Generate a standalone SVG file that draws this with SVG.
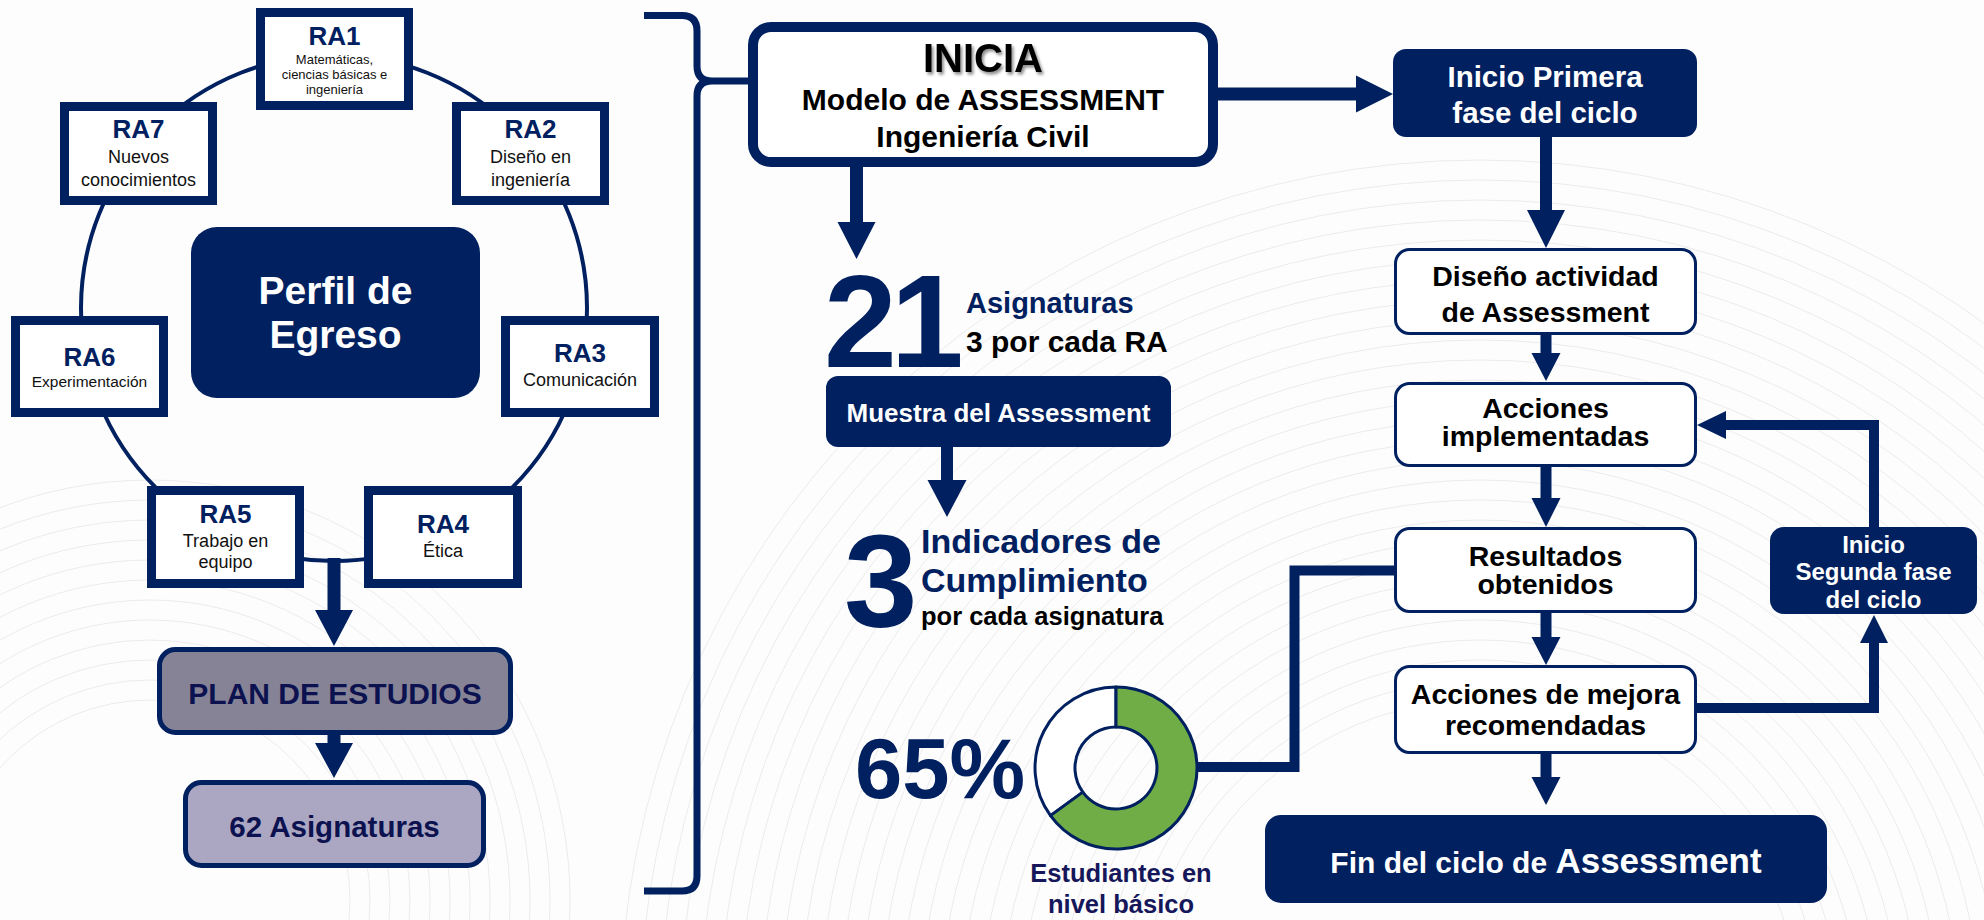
<svg xmlns="http://www.w3.org/2000/svg" width="1984" height="920" viewBox="0 0 1984 920">
<defs>
<style>
text{font-family:"Liberation Sans",Arial,sans-serif}
.b{font-weight:bold}
.ra{fill:#fff;stroke:#002060;stroke-width:9}
.ral{font-weight:bold;font-size:26px;fill:#002060;text-anchor:middle}
.ras{fill:#111;text-anchor:middle}
.wbox{fill:#fff;stroke:#002060;stroke-width:3}
.nbox{fill:#002060}
.wt{font-weight:bold;font-size:28.5px;fill:#000;text-anchor:middle}
.nt{font-weight:bold;fill:#fff;text-anchor:middle}
.arr{fill:#002060}
.bg{fill:none;stroke:#e4e4e4;stroke-width:1}
</style>
<filter id="sh" x="-20%" y="-20%" width="140%" height="160%">
<feDropShadow dx="2" dy="2.5" stdDeviation="1.6" flood-color="#000" flood-opacity="0.45"/>
</filter>
</defs>
<rect width="1984" height="920" fill="#fdfdfd"/>
<g id="background" opacity="0.7">
<circle class="bg" cx="1480" cy="1020" r="320"/><circle class="bg" cx="1480" cy="1020" r="340"/><circle class="bg" cx="1480" cy="1020" r="360"/><circle class="bg" cx="1480" cy="1020" r="380"/><circle class="bg" cx="1480" cy="1020" r="400"/><circle class="bg" cx="1480" cy="1020" r="420"/><circle class="bg" cx="1480" cy="1020" r="440"/><circle class="bg" cx="1480" cy="1020" r="460"/><circle class="bg" cx="1480" cy="1020" r="480"/><circle class="bg" cx="1480" cy="1020" r="500"/><circle class="bg" cx="1480" cy="1020" r="520"/><circle class="bg" cx="1480" cy="1020" r="540"/><circle class="bg" cx="1480" cy="1020" r="560"/><circle class="bg" cx="1480" cy="1020" r="580"/><circle class="bg" cx="1480" cy="1020" r="600"/><circle class="bg" cx="1480" cy="1020" r="620"/><circle class="bg" cx="1480" cy="1020" r="640"/><circle class="bg" cx="1480" cy="1020" r="660"/><circle class="bg" cx="1480" cy="1020" r="680"/><circle class="bg" cx="1480" cy="1020" r="700"/><circle class="bg" cx="1480" cy="1020" r="720"/><circle class="bg" cx="1480" cy="1020" r="740"/><circle class="bg" cx="1480" cy="1020" r="760"/><circle class="bg" cx="1480" cy="1020" r="780"/><circle class="bg" cx="1480" cy="1020" r="800"/><circle class="bg" cx="1480" cy="1020" r="820"/><circle class="bg" cx="1480" cy="1020" r="840"/><circle class="bg" cx="1480" cy="1020" r="860"/>
<circle class="bg" cx="150" cy="900" r="200"/><circle class="bg" cx="150" cy="900" r="220"/><circle class="bg" cx="150" cy="900" r="240"/><circle class="bg" cx="150" cy="900" r="260"/><circle class="bg" cx="150" cy="900" r="280"/><circle class="bg" cx="150" cy="900" r="300"/><circle class="bg" cx="150" cy="900" r="320"/><circle class="bg" cx="150" cy="900" r="340"/><circle class="bg" cx="150" cy="900" r="360"/><circle class="bg" cx="150" cy="900" r="380"/><circle class="bg" cx="150" cy="900" r="400"/><circle class="bg" cx="150" cy="900" r="420"/>
</g>

<g id="connectors">
<circle cx="334" cy="308" r="253" fill="none" stroke="#002060" stroke-width="4"/>
<path d="M644 15.5 H682 Q697 15.5 697 31 V66 Q697 81 712 81 H750 M712 81 Q697 81 697 96 V876 Q697 891 682 891 H644" fill="none" stroke="#002060" stroke-width="7"/>
<path class="arr" d="M327.5 558 H340.5 V610 H353 L334 646 L315 610 H327.5 Z"/>
<path class="arr" d="M327.5 735 H340.5 V743 H353 L334 778 L315 743 H327.5 Z"/>
<path class="arr" d="M850 165 H863 V222 H875.5 L856.5 259 L837.5 222 H850 Z"/>
<path class="arr" d="M941 447 H953 V480 H966.5 L947 517 L927.5 480 H941 Z"/>
<path class="arr" d="M1216 87.5 H1356 V75.5 L1393 94 L1356 112.5 V100.5 H1216 Z"/>
<path class="arr" d="M1540 137 H1552 V210 H1565 L1546 248 L1527 210 H1540 Z"/>
<path class="arr" d="M1540.5 335 H1551.5 V353 H1560.5 L1546 381 L1531.5 353 H1540.5 Z"/>
<path class="arr" d="M1540.5 467 H1551.5 V498 H1560.5 L1546 527 L1531.5 498 H1540.5 Z"/>
<path class="arr" d="M1540.5 613 H1551.5 V637 H1560.5 L1546 665 L1531.5 637 H1540.5 Z"/>
<path class="arr" d="M1540.5 754 H1551.5 V777 H1560.5 L1546 805 L1531.5 777 H1540.5 Z"/>
<path class="arr" d="M1696 703 H1869 V643 H1860 L1874 615 L1888 643 H1879 V713 H1696 Z"/>
<path class="arr" d="M1879 528 V420 H1726 V411 L1697 425 L1726 439 V430 H1869 V528 Z"/>
<path d="M1196 767 H1294.5 V570.5 H1396" fill="none" stroke="#002060" stroke-width="10"/>
</g>

<g id="perfil">
<rect x="191" y="227" width="289" height="171" rx="26" fill="#002060"/>
<text class="nt" x="335.5" y="304" font-size="39">Perfil de</text>
<text class="nt" x="335.5" y="348" font-size="39">Egreso</text>
</g>
<g id="ra1">
<rect class="ra" x="260.5" y="12.5" width="148" height="93"/>
<text class="ral" x="334.5" y="45">RA1</text>
<text class="ras" x="334.5" y="64" style="font-size:13px">Matemáticas,</text>
<text class="ras" x="334.5" y="79" style="font-size:13px">ciencias básicas e</text>
<text class="ras" x="334.5" y="94" style="font-size:13px">ingeniería</text>
</g>
<g id="ra2">
<rect class="ra" x="456.5" y="106.5" width="148" height="94"/>
<text class="ral" x="530.5" y="138">RA2</text>
<text class="ras" x="530.5" y="163" style="font-size:18px">Diseño en</text>
<text class="ras" x="530.5" y="186" style="font-size:18px">ingeniería</text>
</g>
<g id="ra3">
<rect class="ra" x="505.5" y="320.5" width="149" height="92"/>
<text class="ral" x="580" y="362">RA3</text>
<text class="ras" x="580" y="386" style="font-size:18px">Comunicación</text>
</g>
<g id="ra4">
<rect class="ra" x="368.5" y="490.5" width="149" height="93"/>
<text class="ral" x="443" y="533">RA4</text>
<text class="ras" x="443" y="557" style="font-size:18px">Ética</text>
</g>
<g id="ra5">
<rect class="ra" x="151.5" y="490.5" width="148" height="93"/>
<text class="ral" x="225.5" y="523">RA5</text>
<text class="ras" x="225.5" y="547" style="font-size:18px">Trabajo en</text>
<text class="ras" x="225.5" y="568" style="font-size:18px">equipo</text>
</g>
<g id="ra6">
<rect class="ra" x="15.5" y="320.5" width="148" height="92"/>
<text class="ral" x="89.5" y="366">RA6</text>
<text class="ras" x="89.5" y="387" style="font-size:15.5px">Experimentación</text>
</g>
<g id="ra7">
<rect class="ra" x="64.5" y="106.5" width="148" height="94"/>
<text class="ral" x="138.5" y="138">RA7</text>
<text class="ras" x="138.5" y="163" style="font-size:18px">Nuevos</text>
<text class="ras" x="138.5" y="186" style="font-size:18px">conocimientos</text>
</g>
<g id="plan">
<rect x="159.5" y="649.5" width="351" height="83" rx="16" fill="#878396" stroke="#002060" stroke-width="5"/>
<text class="b" x="335" y="704" font-size="30" fill="#0c1250" text-anchor="middle">PLAN DE ESTUDIOS</text>
</g>
<g id="asig62">
<rect x="185.5" y="782.5" width="298" height="83" rx="16" fill="#aba7c2" stroke="#002060" stroke-width="5"/>
<text class="b" x="334.5" y="837" font-size="29.5" fill="#0c1250" text-anchor="middle">62 Asignaturas</text>
</g>

<g id="inicia">
<rect x="753" y="27" width="460" height="135" rx="18" fill="#fff" stroke="#002060" stroke-width="10"/>
<text class="b" x="983" y="72" font-size="40" fill="#000" text-anchor="middle" filter="url(#sh)">INICIA</text>
<text class="b" x="983" y="110" font-size="30" fill="#000" text-anchor="middle">Modelo de ASSESSMENT</text>
<text class="b" x="983" y="147" font-size="30" fill="#000" text-anchor="middle">Ingeniería Civil</text>
</g>
<g id="asig21">
<text class="b" x="824" y="367" font-size="131" fill="#002060" letter-spacing="-6">21</text>
<text class="b" x="966" y="313" font-size="29" fill="#002060">Asignaturas</text>
<text class="b" x="966" y="352" font-size="30" fill="#000">3 por cada RA</text>
</g>
<g id="muestra">
<rect x="826" y="376" width="345" height="71" rx="12" fill="#002060"/>
<text class="nt" x="998.5" y="422" font-size="26">Muestra del Assessment</text>
</g>
<g id="indicadores">
<text class="b" x="844" y="627" font-size="132" fill="#002060">3</text>
<text class="b" x="921" y="553" font-size="34" fill="#002060">Indicadores de</text>
<text class="b" x="921" y="592" font-size="34" fill="#002060">Cumplimiento</text>
<text class="b" x="921" y="625" font-size="25.5" fill="#000">por cada asignatura</text>
</g>
<g id="porcentaje">
<text class="b" x="940" y="798" font-size="85" fill="#002060" text-anchor="middle">65%</text>
<path d="M1116 687 A81 81 0 0 0 1050.5 815.6 L1082.8 792.1 A41 41 0 0 1 1116 727 Z" fill="#fff" stroke="#002060" stroke-width="3" stroke-linejoin="round"/>
<path d="M1116 687 A81 81 0 1 1 1050.5 815.6 L1082.8 792.1 A41 41 0 1 0 1116 727 Z" fill="#70ad47" stroke="#002060" stroke-width="3" stroke-linejoin="round"/>
<text class="b" x="1121" y="882" font-size="25.5" fill="#16175a" text-anchor="middle">Estudiantes en</text>
<text class="b" x="1121" y="913" font-size="25.5" fill="#16175a" text-anchor="middle">nivel básico</text>
</g>

<g id="inicio1">
<rect class="nbox" x="1393" y="49" width="304" height="88" rx="13"/>
<text class="nt" x="1545" y="87" font-size="29.5">Inicio Primera</text>
<text class="nt" x="1545" y="123" font-size="29.5">fase del ciclo</text>
</g>
<g id="diseno">
<rect class="wbox" x="1395.5" y="249.5" width="300" height="84" rx="14"/>
<text class="wt" x="1545.5" y="286">Diseño actividad</text>
<text class="wt" x="1545.5" y="322">de Assessment</text>
</g>
<g id="acciones">
<rect class="wbox" x="1395.5" y="383.5" width="300" height="82" rx="14"/>
<text class="wt" x="1545.5" y="418">Acciones</text>
<text class="wt" x="1545.5" y="446">implementadas</text>
</g>
<g id="resultados">
<rect class="wbox" x="1395.5" y="528.5" width="300" height="83" rx="14"/>
<text class="wt" x="1545.5" y="566">Resultados</text>
<text class="wt" x="1545.5" y="594">obtenidos</text>
</g>
<g id="mejora">
<rect class="wbox" x="1395.5" y="666.5" width="300" height="86" rx="14"/>
<text class="wt" x="1545.5" y="704">Acciones de mejora</text>
<text class="wt" x="1545.5" y="735">recomendadas</text>
</g>
<g id="inicio2">
<rect class="nbox" x="1770" y="527" width="207" height="87" rx="14"/>
<text class="nt" x="1873.5" y="553" font-size="24">Inicio</text>
<text class="nt" x="1873.5" y="580" font-size="24">Segunda fase</text>
<text class="nt" x="1873.5" y="608" font-size="24">del ciclo</text>
</g>
<g id="fin">
<rect class="nbox" x="1265" y="815" width="562" height="88" rx="16"/>
<text class="nt" x="1546" y="873" font-size="30">Fin del ciclo de <tspan font-size="35">Assessment</tspan></text>
</g>
</svg>
